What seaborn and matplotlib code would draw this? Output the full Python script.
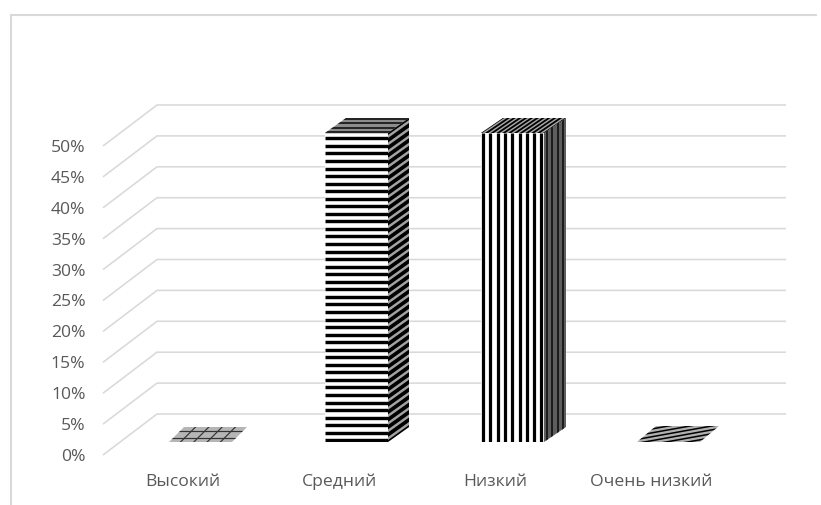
import numpy as np
import pandas as pd
import matplotlib
matplotlib.use("Agg")
import matplotlib.pyplot as plt
from matplotlib.patches import Polygon
from matplotlib.transforms import Affine2D, ScaledTranslation
import seaborn as sns

categories = ["Высокий", "Средний", "Низкий", "Очень низкий"]
shares = [0.0, 0.5, 0.5, 0.0]
y_ticks = [0.0, 0.05, 0.10, 0.15, 0.20, 0.25, 0.30, 0.35, 0.40, 0.45, 0.50]
y_labels = ["0%", "5%", "10%", "15%", "20%", "25%", "30%", "35%", "40%", "45%", "50%"]

W, H = 821, 505
GRID = "#d9d9d9"
TEXT = "#595959"

sns.set_theme(style="white")
plt.rcParams["font.family"] = ["Open Sans", "DejaVu Sans"]

fig = plt.figure(figsize=(W / 100, H / 100), dpi=100, facecolor="white")
# plot rectangle: the front plane of the pseudo-3D chart
ax = fig.add_axes([122.5 / W, (H - 442) / H, 624 / W, 309 / H])
ax.set_facecolor("none")

frame = pd.DataFrame({"level": categories, "share": shares})
sns.barplot(data=frame, x="level", y="share", order=categories, width=63 / 156,
            color="white", saturation=1, linewidth=0, ax=ax, zorder=3)
ax.set_xlim(-0.5, 3.5)
ax.set_ylim(0, 0.5)
ax.set_xlabel("")
ax.set_ylabel("")
sns.despine(ax=ax, left=True, bottom=True)

# top-left pixel coordinates for the depth decoration
px = Affine2D().scale(1, -1).translate(0, H)


def to_px(x, y):
    p = ax.transData.transform((x, y))
    return p[0], H - p[1]


def line(xs, ys, color=GRID, lw=1.1, z=1, clip=None):
    art, = ax.plot(xs, ys, color=color, lw=lw, transform=px, clip_on=False,
                   zorder=z, solid_capstyle="butt")
    if clip is not None:
        art.set_clip_on(True)
        art.set_clip_box(None)
        art.set_clip_path(clip)
    return art


def face(points, fill, z=4):
    poly = Polygon(points, closed=True, facecolor=fill, edgecolor="none",
                   transform=px, zorder=z, clip_on=False)
    ax.add_patch(poly)
    return poly


def stripes(poly, points, direction, step, lw, color="black", z=5):
    # parallel lines along `direction`, spaced by `step`, kept inside the face
    pts = np.array(points, dtype=float)
    direction = np.array(direction, dtype=float)
    direction = direction / np.hypot(*direction)
    step = np.array(step, dtype=float)
    start = pts.mean(axis=0)
    count = int(900 / np.hypot(*step)) + 2
    for k in range(-count, count + 1):
        origin = start + step * (k + 0.5)
        a = origin - direction * 900
        b = origin + direction * 900
        line([a[0], b[0]], [a[1], b[1]], color=color, lw=lw, z=z, clip=poly)


# chart frame: top and left edges only
line([11, 11], [14, H], lw=1.5)
line([10, W - 4], [15, 15], lw=1.5)

# gridlines run across the back wall and fold forward along the side wall
for tick in y_ticks:
    _, y = to_px(0, tick)
    line([103, 157, 786], [y + 13, y - 28, y - 28], lw=1.15)

patches = list(ax.patches)
depths = [(15, -15), (21, -15), (22, -15), (19, -16)]

for i, (bar, depth) in enumerate(zip(patches, depths)):
    x0, y_top = to_px(bar.get_x(), bar.get_height())
    x1, y_bot = to_px(bar.get_x() + bar.get_width(), 0)
    dx, dy = depth
    top = [(x0, y_top), (x1, y_top), (x1 + dx, y_top + dy), (x0 + dx, y_top + dy)]
    side = [(x1, y_top), (x1 + dx, y_top + dy), (x1 + dx, y_bot + dy), (x1, y_bot)]
    lw_h = 3.4 * 0.72
    lw_v = 3.2 * 0.72
    if i == 0:
        # flat cell: grid pattern on a grey plane
        p = face(top, "#b5b5b5")
        stripes(p, top, (dx, dy), (13.3, 0), 0.85, color="#333333")
        stripes(p, top, (1, 0), (0, 7.5), 0.85, color="#333333")
    elif i == 3:
        # flat cell: slanted stripes
        p = face(top, "#b0b0b0")
        stripes(p, top, (1, -0.18), (0, 3.9), 1.1)
    elif i == 1:
        p_side = face(side, "#a3a3a3")
        stripes(p_side, side, (dx, dy), (0, 7.55), 2.65)
        p_top = face(top, "#8c8c8c")
        stripes(p_top, top, (1, 0), (0, 4.6), 1.3, color="#1a1a1a")
        clip = Polygon([(x0, y_top), (x1, y_top), (x1, y_bot), (x0, y_bot)],
                       transform=px, facecolor="none", edgecolor="none", zorder=3)
        ax.add_patch(clip)
        for k in range(42):
            y = y_bot - 1.7 - 7.55 * k
            line([x0, x1], [y, y], color="black", lw=lw_h, z=4, clip=clip)
    else:
        p_side = face(side, "#5e5e5e")
        stripes(p_side, side, (0, 1), (5.5, 0), 2.0 * 0.72, color="#1c1c1c")
        p_top = face(top, "#a8a8a8")
        stripes(p_top, top, (dx, dy), (5.8, 0), 1.3)
        clip = Polygon([(x0, y_top), (x1, y_top), (x1, y_bot), (x0, y_bot)],
                       transform=px, facecolor="none", edgecolor="none", zorder=3)
        ax.add_patch(clip)
        k = 0
        while x0 + 2 + 7.3 * k < x1 + 3:
            x = x0 + 2 + 7.3 * k
            line([x, x], [y_top, y_bot], color="black", lw=lw_v, z=4, clip=clip)
            k += 1

# axis labels sit in the front plane, ahead of the bars
ax.set_yticks(y_ticks)
ax.set_yticklabels(y_labels)
ax.tick_params(axis="y", length=0, pad=37 * 0.72, labelsize=12.6, labelcolor=TEXT)
ax.tick_params(axis="x", length=0, pad=32, labelsize=12.6, labelcolor=TEXT)
down = ScaledTranslation(0, -13 / 100, fig.dpi_scale_trans)
left = ScaledTranslation(-17.3 / 100, 0, fig.dpi_scale_trans)
for label in ax.get_yticklabels():
    label.set_transform(label.get_transform() + down)
for label in ax.get_xticklabels():
    label.set_verticalalignment("baseline")
    label.set_transform(label.get_transform() + left)

fig.savefig("out.png", dpi=100, facecolor="white")
